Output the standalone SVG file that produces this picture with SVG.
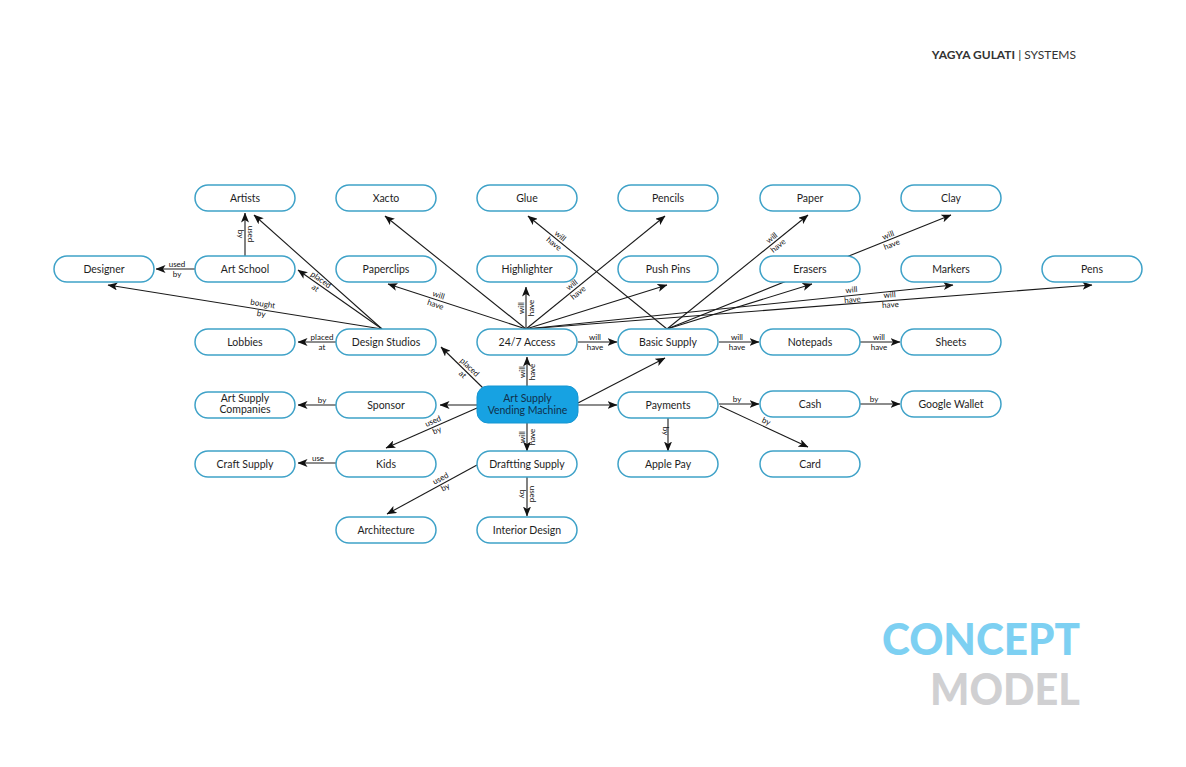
<svg xmlns="http://www.w3.org/2000/svg" width="1186" height="767" viewBox="0 0 1186 767">
<style>
.n rect{fill:#fff;stroke:#3fa2c8;stroke-width:1.5}
.n text{font-family:Lato,"Open Sans",sans-serif;font-size:10.5px;fill:#1e1e1e;text-anchor:middle}
#c rect{fill:#17a2e2;stroke:#1596d2;stroke-width:1}
#c text{fill:#10304c}
#edges line{stroke:#1a1a1a;stroke-width:1.1;marker-end:url(#ah)}
.l text{font-family:Lato,"Open Sans",sans-serif;font-size:8px;fill:#111;text-anchor:middle}
</style>
<defs>
<marker id="ah" viewBox="0 0 10 8" refX="9.5" refY="4" markerWidth="10" markerHeight="8" markerUnits="userSpaceOnUse" orient="auto"><path d="M0,0 L10,4 L0,8 L2.5,4 z" fill="#111"/></marker>
</defs>
<rect width="1186" height="767" fill="#fff"/>
<text x="1076" y="59" text-anchor="end" font-family="Lato,'Open Sans',sans-serif" font-size="12" fill="#333"><tspan font-weight="bold">YAGYA GULATI</tspan><tspan> | SYSTEMS</tspan></text>
<g id="edges">
<line x1="245" y1="256" x2="245" y2="213"/>
<line x1="195" y1="269" x2="156" y2="269"/>
<line x1="382" y1="329" x2="254" y2="215"/>
<line x1="382" y1="329" x2="298" y2="270"/>
<line x1="382" y1="329" x2="108" y2="285"/>
<line x1="336" y1="342" x2="298" y2="342"/>
<line x1="483" y1="388" x2="441" y2="347"/>
<line x1="527" y1="386" x2="527" y2="357"/>
<line x1="477" y1="405" x2="440" y2="405"/>
<line x1="477" y1="408" x2="386" y2="448"/>
<line x1="527" y1="423" x2="527" y2="451"/>
<line x1="336" y1="405" x2="298" y2="405"/>
<line x1="336" y1="463" x2="298" y2="463"/>
<line x1="477" y1="465" x2="387" y2="514"/>
<line x1="527" y1="477" x2="527" y2="516"/>
<line x1="578" y1="403" x2="665" y2="358"/>
<line x1="578" y1="405" x2="617" y2="405"/>
<line x1="578" y1="342" x2="617" y2="342"/>
<line x1="719" y1="342" x2="759" y2="342"/>
<line x1="860" y1="342" x2="900" y2="342"/>
<line x1="719" y1="404" x2="759" y2="404"/>
<line x1="860" y1="404" x2="900" y2="404"/>
<line x1="720" y1="406" x2="808" y2="447"/>
<line x1="668" y1="417" x2="668" y2="451"/>
<line x1="526" y1="329" x2="385" y2="216"/>
<line x1="526" y1="329" x2="388" y2="284"/>
<line x1="526" y1="329" x2="526" y2="287"/>
<line x1="526" y1="329" x2="665" y2="216"/>
<line x1="526" y1="329" x2="667" y2="285"/>
<line x1="526" y1="329" x2="953" y2="285"/>
<line x1="526" y1="329" x2="1092" y2="285"/>
<line x1="667" y1="329" x2="528" y2="216"/>
<line x1="667" y1="329" x2="808" y2="215"/>
<line x1="667" y1="329" x2="951" y2="215"/>
<line x1="667" y1="329" x2="812" y2="284"/>
<g class="l">
<g transform="translate(245,234) rotate(90)"><text y="-2.5">used</text><text y="7.5">by</text></g>
<g transform="translate(177,269)"><text y="-2.5">used</text><text y="7.5">by</text></g>
<g transform="translate(318,284) rotate(35)"><text y="-2.5">placed</text><text y="7.5">at</text></g>
<g transform="translate(262,309) rotate(9.1)"><text y="-2.5">bought</text><text y="7.5">by</text></g>
<g transform="translate(322,342)"><text y="-2.5">placed</text><text y="7.5">at</text></g>
<g transform="translate(466,371) rotate(44.3)"><text y="-2.5">placed</text><text y="7.5">at</text></g>
<g transform="translate(527,372) rotate(-90)"><text y="-2.5">will</text><text y="7.5">have</text></g>
<g transform="translate(435,426) rotate(-23.7)"><text y="-2.5">used</text><text y="7.5">by</text></g>
<g transform="translate(527,437) rotate(-90)"><text y="-2.5">will</text><text y="7.5">have</text></g>
<g transform="translate(322,405)"><text y="-2.5">by</text></g>
<g transform="translate(318,463)"><text y="-2.5">use</text></g>
<g transform="translate(443,483) rotate(-28.6)"><text y="-2.5">used</text><text y="7.5">by</text></g>
<g transform="translate(527,494) rotate(90)"><text y="-2.5">used</text><text y="7.5">by</text></g>
<g transform="translate(595,342)"><text y="-2.5">will</text><text y="7.5">have</text></g>
<g transform="translate(737,342)"><text y="-2.5">will</text><text y="7.5">have</text></g>
<g transform="translate(879,342)"><text y="-2.5">will</text><text y="7.5">have</text></g>
<g transform="translate(737,404)"><text y="-2.5">by</text></g>
<g transform="translate(874,404)"><text y="-2.5">by</text></g>
<g transform="translate(764,426) rotate(25)"><text y="-2.5">by</text></g>
<g transform="translate(668,431) rotate(90)"><text y="5">by</text></g>
<g transform="translate(437,300) rotate(18.2)"><text y="-2.5">will</text><text y="7.5">have</text></g>
<g transform="translate(526,308) rotate(-90)"><text y="-2.5">will</text><text y="7.5">have</text></g>
<g transform="translate(575,289) rotate(-38.9)"><text y="-2.5">will</text><text y="7.5">have</text></g>
<g transform="translate(557,240) rotate(39.1)"><text y="-2.5">will</text><text y="7.5">have</text></g>
<g transform="translate(775,242) rotate(-39)"><text y="-2.5">will</text><text y="7.5">have</text></g>
<g transform="translate(890,240) rotate(-21.9)"><text y="-2.5">will</text><text y="7.5">have</text></g>
<g transform="translate(852,295) rotate(-5.9)"><text y="-2.5">will</text><text y="7.5">have</text></g>
<g transform="translate(890,300) rotate(-4.4)"><text y="-2.5">will</text><text y="7.5">have</text></g>
</g>
</g>
<g id="n-artists" class="n"><rect x="195" y="185" width="100" height="26" rx="13"/><text x="245" y="201.5">Artists</text></g>
<g id="n-xacto" class="n"><rect x="336" y="185" width="100" height="26" rx="13"/><text x="386" y="201.5">Xacto</text></g>
<g id="n-glue" class="n"><rect x="477" y="185" width="100" height="26" rx="13"/><text x="527" y="201.5">Glue</text></g>
<g id="n-pencils" class="n"><rect x="618" y="185" width="100" height="26" rx="13"/><text x="668" y="201.5">Pencils</text></g>
<g id="n-paper" class="n"><rect x="760" y="185" width="100" height="26" rx="13"/><text x="810" y="201.5">Paper</text></g>
<g id="n-clay" class="n"><rect x="901" y="185" width="100" height="26" rx="13"/><text x="951" y="201.5">Clay</text></g>
<g id="n-designer" class="n"><rect x="54" y="256" width="100" height="26" rx="13"/><text x="104" y="272.5">Designer</text></g>
<g id="n-artschool" class="n"><rect x="195" y="256" width="100" height="26" rx="13"/><text x="245" y="272.5">Art School</text></g>
<g id="n-paperclips" class="n"><rect x="336" y="256" width="100" height="26" rx="13"/><text x="386" y="272.5">Paperclips</text></g>
<g id="n-highlighter" class="n"><rect x="477" y="256" width="100" height="26" rx="13"/><text x="527" y="272.5">Highlighter</text></g>
<g id="n-pushpins" class="n"><rect x="618" y="256" width="100" height="26" rx="13"/><text x="668" y="272.5">Push Pins</text></g>
<g id="n-erasers" class="n"><rect x="760" y="256" width="100" height="26" rx="13"/><text x="810" y="272.5">Erasers</text></g>
<g id="n-markers" class="n"><rect x="901" y="256" width="100" height="26" rx="13"/><text x="951" y="272.5">Markers</text></g>
<g id="n-pens" class="n"><rect x="1042" y="256" width="100" height="26" rx="13"/><text x="1092" y="272.5">Pens</text></g>
<g id="n-lobbies" class="n"><rect x="195" y="329" width="100" height="26" rx="13"/><text x="245" y="345.5">Lobbies</text></g>
<g id="n-designstudios" class="n"><rect x="336" y="329" width="100" height="26" rx="13"/><text x="386" y="345.5">Design Studios</text></g>
<g id="n-access" class="n"><rect x="477" y="329" width="100" height="26" rx="13"/><text x="527" y="345.5">24/7 Access</text></g>
<g id="n-basic" class="n"><rect x="618" y="329" width="100" height="26" rx="13"/><text x="668" y="345.5">Basic Supply</text></g>
<g id="n-notepads" class="n"><rect x="760" y="329" width="100" height="26" rx="13"/><text x="810" y="345.5">Notepads</text></g>
<g id="n-sheets" class="n"><rect x="901" y="329" width="100" height="26" rx="13"/><text x="951" y="345.5">Sheets</text></g>
<g id="n-asc" class="n"><rect x="195" y="392" width="100" height="26" rx="13"/><text x="245" y="401.5">Art Supply</text><text x="245" y="413">Companies</text></g>
<g id="n-sponsor" class="n"><rect x="336" y="392" width="100" height="26" rx="13"/><text x="386" y="408.5">Sponsor</text></g>
<g id="c" class="n"><rect x="477" y="386" width="101" height="37" rx="11"/><text x="527.5" y="401.5">Art Supply</text><text x="527.5" y="413.5">Vending Machine</text></g>
<g id="n-payments" class="n"><rect x="618" y="392" width="100" height="26" rx="13"/><text x="668" y="408.5">Payments</text></g>
<g id="n-cash" class="n"><rect x="760" y="391" width="100" height="26" rx="13"/><text x="810" y="407.5">Cash</text></g>
<g id="n-googlewallet" class="n"><rect x="901" y="391" width="100" height="26" rx="13"/><text x="951" y="407.5">Google Wallet</text></g>
<g id="n-craft" class="n"><rect x="195" y="451" width="100" height="26" rx="13"/><text x="245" y="467.5">Craft Supply</text></g>
<g id="n-kids" class="n"><rect x="336" y="451" width="100" height="26" rx="13"/><text x="386" y="467.5">Kids</text></g>
<g id="n-drafting" class="n"><rect x="477" y="451" width="100" height="26" rx="13"/><text x="527" y="467.5">Draftting Supply</text></g>
<g id="n-applepay" class="n"><rect x="618" y="451" width="100" height="26" rx="13"/><text x="668" y="467.5">Apple Pay</text></g>
<g id="n-card" class="n"><rect x="760" y="451" width="100" height="26" rx="13"/><text x="810" y="467.5">Card</text></g>
<g id="n-architecture" class="n"><rect x="336" y="517" width="100" height="26" rx="13"/><text x="386" y="533.5">Architecture</text></g>
<g id="n-interior" class="n"><rect x="477" y="517" width="100" height="26" rx="13"/><text x="527" y="533.5">Interior Design</text></g>
<text x="1080" y="655" text-anchor="end" font-family="Lato,'Open Sans',sans-serif" font-weight="900" font-size="44" fill="#7dd0f2" textLength="198" lengthAdjust="spacingAndGlyphs">CONCEPT</text>
<text x="1080" y="705" text-anchor="end" font-family="Lato,'Open Sans',sans-serif" font-weight="900" font-size="44" fill="#d0d0d2" textLength="150" lengthAdjust="spacingAndGlyphs">MODEL</text>
</svg>
